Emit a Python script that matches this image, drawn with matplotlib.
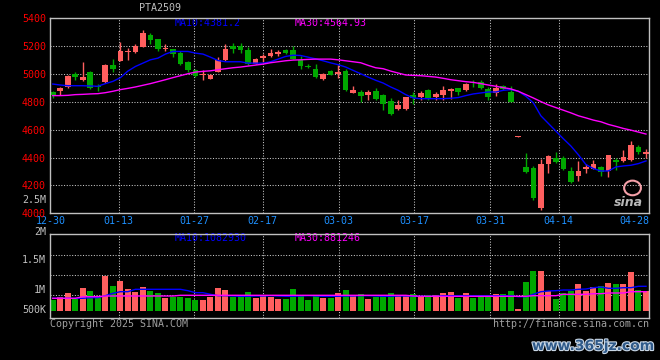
import numpy as np
import matplotlib
matplotlib.use("Agg")
import matplotlib.pyplot as plt
import matplotlib.patheffects as pe
from matplotlib.patches import Ellipse
from matplotlib.transforms import blended_transform_factory

# --- data ---
title = "PTA2509"
tick_labels = ["12-30", "01-13", "01-27", "02-17", "03-03", "03-17", "03-31", "04-14", "04-28"]
tick_days = [0, 9, 19, 28, 38, 48, 58, 67, 77]

opens = [4869, 4878, 4907, 5002, 4959, 5011, 4917, 4940, 5064, 5095,
         5161, 5159, 5197, 5278, 5252, 5178, 5178, 5150, 5088, 5031,
         4993, 4962, 5016, 5100, 5204, 5202, 5169, 5074, 5116, 5126,
         5145, 5171, 5174, 5102, 5061, 5038, 4966, 5019, 5002, 5019,
         4866, 4871, 4850, 4881, 4850, 4804, 4752, 4752, 4852, 4835,
         4888, 4835, 4847, 4876, 4897, 4883, 4945, 4945, 4892, 4862,
         4916, 4871, 4545, 4335, 4323, 4038, 4352, 4395, 4395, 4304,
         4269, 4316, 4321, 4335, 4304, 4381, 4374, 4381, 4474, 4428]
closes = [4847, 4897, 4988, 4978, 4981, 4900, 4907, 5064, 5035, 5166,
          5166, 5202, 5297, 5247, 5183, 5183, 5147, 5069, 5026, 4988,
          4997, 4995, 5102, 5178, 5181, 5174, 5074, 5107, 5126, 5154,
          5159, 5152, 5107, 5061, 5047, 4978, 5000, 4995, 5014, 4888,
          4885, 4840, 4871, 4823, 4788, 4716, 4776, 4835, 4828, 4864,
          4823, 4859, 4883, 4892, 4871, 4931, 4935, 4897, 4838, 4900,
          4892, 4802, 4552, 4297, 4109, 4352, 4411, 4369, 4316, 4226,
          4304, 4335, 4352, 4300, 4416, 4369, 4402, 4488, 4440, 4440]
highs = [4881, 4907, 4990, 5016, 5083, 5021, 4931, 5073, 5107, 5231,
         5190, 5219, 5316, 5295, 5252, 5214, 5183, 5162, 5095, 5035,
         5028, 5000, 5121, 5214, 5221, 5221, 5197, 5112, 5147, 5183,
         5173, 5183, 5200, 5126, 5073, 5069, 5004, 5030, 5062, 5038,
         4912, 4885, 4885, 4900, 4857, 4828, 4816, 4835, 4873, 4881,
         4893, 4871, 4916, 4897, 4902, 4935, 4955, 4955, 4907, 4931,
         4921, 4916, 4552, 4431, 4340, 4388, 4416, 4442, 4411, 4333,
         4374, 4352, 4381, 4340, 4416, 4400, 4454, 4519, 4490, 4464]
lows = [4828, 4847, 4897, 4959, 4950, 4893, 4876, 4935, 5014, 5090,
        5102, 5154, 5195, 5216, 5162, 5162, 5121, 5062, 5016, 4978,
        4954, 4962, 5012, 5095, 5150, 5154, 5066, 5069, 5088, 5121,
        5131, 5145, 5107, 5038, 5040, 4971, 4959, 4990, 4971, 4876,
        4861, 4800, 4816, 4816, 4745, 4709, 4745, 4745, 4788, 4816,
        4816, 4816, 4816, 4823, 4852, 4880, 4907, 4892, 4816, 4840,
        4888, 4802, 4545, 4288, 4097, 4024, 4288, 4364, 4312, 4221,
        4233, 4288, 4316, 4269, 4262, 4312, 4369, 4376, 4423, 4400]

ma10 = [4928, 4921, 4916, 4916, 4916, 4914, 4912, 4931, 4947, 4974,
        5021, 5054, 5078, 5102, 5114, 5143, 5162, 5162, 5162, 5150,
        5143, 5121, 5097, 5088, 5088, 5088, 5078, 5078, 5078, 5088,
        5107, 5126, 5135, 5133, 5121, 5109, 5095, 5080, 5067, 5050,
        5026, 5002, 4978, 4955, 4935, 4907, 4883, 4852, 4828, 4823,
        4823, 4823, 4823, 4826, 4831, 4845, 4857, 4864, 4871, 4871,
        4883, 4888, 4876, 4840, 4793, 4700, 4645, 4590, 4535, 4483,
        4420, 4350, 4321, 4304, 4304, 4333, 4340, 4345, 4357, 4376]
ma30 = [4845, 4845, 4847, 4852, 4854, 4857, 4859, 4866, 4876, 4888,
        4897, 4907, 4919, 4931, 4945, 4959, 4974, 4988, 5002, 5014,
        5019, 5023, 5031, 5038, 5045, 5050, 5057, 5064, 5071, 5081,
        5088, 5095, 5100, 5102, 5105, 5107, 5107, 5107, 5102, 5095,
        5088, 5081, 5062, 5045, 5038, 5021, 5007, 4993, 4990, 4988,
        4983, 4978, 4969, 4959, 4952, 4945, 4940, 4931, 4921, 4912,
        4902, 4893, 4876, 4852, 4828, 4802, 4778, 4759, 4740, 4721,
        4700, 4685, 4669, 4657, 4638, 4624, 4609, 4597, 4583, 4569]

volume = [473000, 602000, 774000, 559000, 989000, 860000, 602000, 1505000, 1075000, 1290000,
          946000, 817000, 1032000, 860000, 774000, 559000, 602000, 602000, 559000, 473000,
          473000, 602000, 989000, 903000, 602000, 645000, 817000, 559000, 688000, 602000,
          516000, 516000, 946000, 645000, 473000, 688000, 559000, 559000, 774000, 903000,
          645000, 731000, 516000, 602000, 645000, 774000, 688000, 688000, 731000, 645000,
          688000, 688000, 774000, 817000, 559000, 774000, 559000, 688000, 602000, 731000,
          731000, 860000, 86000, 1247000, 1720000, 1720000, 860000, 516000, 774000, 860000,
          1161000, 860000, 1032000, 1075000, 1204000, 1161000, 1161000, 1677000, 903000, 860000]
vol_ma10 = [546000, 546000, 546000, 546000, 546000, 572000, 572000, 658000, 761000, 830000,
            830000, 933000, 933000, 933000, 933000, 933000, 933000, 933000, 873000, 787000,
            787000, 718000, 658000, 658000, 645000, 632000, 632000, 645000, 645000, 658000,
            645000, 632000, 632000, 645000, 658000, 645000, 632000, 632000, 632000, 645000,
            645000, 658000, 658000, 645000, 632000, 632000, 645000, 645000, 632000, 632000,
            632000, 632000, 658000, 658000, 658000, 658000, 658000, 658000, 658000, 658000,
            658000, 658000, 615000, 615000, 718000, 830000, 860000, 873000, 903000, 903000,
            933000, 946000, 1002000, 1032000, 976000, 976000, 1002000, 1002000, 1062000, 1062000]
vol_ma30 = [546000, 546000, 546000, 546000, 615000, 615000, 615000, 645000, 645000, 645000,
            645000, 645000, 645000, 645000, 645000, 645000, 645000, 675000, 675000, 675000,
            675000, 675000, 675000, 675000, 675000, 675000, 675000, 675000, 675000, 675000,
            675000, 675000, 675000, 675000, 675000, 675000, 675000, 675000, 675000, 675000,
            675000, 675000, 675000, 675000, 675000, 675000, 675000, 675000, 645000, 632000,
            632000, 632000, 632000, 632000, 632000, 632000, 632000, 632000, 632000, 632000,
            632000, 632000, 632000, 632000, 658000, 658000, 658000, 658000, 718000, 718000,
            718000, 718000, 744000, 744000, 774000, 774000, 774000, 830000, 830000, 830000]

ma10_label, ma30_label = "MA10:4381.2", "MA30:4564.93"
vma10_label, vma30_label = "MA10:1082930", "MA30:881246"
vol_tick_text = ["2.5M", "2M", "1.5M", "1M", "500K"]

# --- style ---
RED = "#ff5f5f"
GREEN = "#00a800"
GRID = "#c8c8c8"
BORDER = "#c0c0c0"
MONO = "DejaVu Sans Mono"
FS = 7.2
plt.rcParams["font.family"] = MONO

W, H = 660, 360
def box(l, t, r, b):
    return [l / W, 1 - b / H, (r - l) / W, (b - t) / H]

fig = plt.figure(figsize=(6.6, 3.6), dpi=100, facecolor="black")
ax = fig.add_axes(box(50, 18.3, 649.3, 213.3))
axv = fig.add_axes(box(50, 234.3, 649.3, 318.3))

x = np.arange(len(closes))
o, c = np.array(opens), np.array(closes)
colors = np.where(c >= o, RED, GREEN)
xlim = (-0.37, len(closes) - 0.56)
# labels sit on a calendar grid that is a little wider than the candle spacing
tick_pos = np.array(tick_days) * 1.0101 - 0.32

for a in (ax, axv):
    a.set_facecolor("black")
    a.set_xlim(*xlim)
    for s in a.spines.values():
        s.set_color(BORDER)
        s.set_linewidth(1.0)
        s.set_zorder(10)
    for v in tick_pos[1:-1]:
        a.axvline(v, color=GRID, lw=0.75, ls=(0, (1, 1.6)), zorder=1)

# --- price panel ---
ax.set_ylim(4000, 5400)
for yv in range(4200, 5400, 200):
    ax.axhline(yv, color=GRID, lw=0.75, ls=(0, (1, 1.6)), zorder=1)
ax.vlines(x, lows, highs, colors=colors, lw=1.0, zorder=3)
body_lo = np.minimum(o, c)
body_h = np.maximum(np.abs(c - o), 6)
ax.bar(x, body_h, bottom=body_lo, width=0.76, color=colors, linewidth=0, zorder=4)
ax.plot(x, ma10, color="#0000ff", lw=1.0, zorder=5)
ax.plot(x, ma30, color="#ff00ff", lw=1.0, zorder=5)

ax.set_yticks(range(4000, 5401, 200))
ax.tick_params(axis="y", length=0, pad=3, labelsize=FS, labelcolor="#ff0000")
ax.set_xticks(tick_pos, tick_labels)
ax.tick_params(axis="x", length=0, pad=2, labelsize=FS, labelcolor="#1e90ff")

ax.text(0.2086, 0.975, ma10_label, transform=ax.transAxes, color="#0000ff",
        fontsize=FS, va="center", ha="left")
ax.text(0.4088, 0.975, ma30_label, transform=ax.transAxes, color="#ff00ff",
        fontsize=FS, va="center", ha="left")

# sina logo in the corner
ax.add_patch(Ellipse((0.972, 0.13), 0.028, 0.075, transform=ax.transAxes,
                     fill=False, ec="#f4a0a8", lw=1.5, zorder=6))
ax.text(0.99, 0.055, "sina", transform=ax.transAxes, color="#b8b8b8", fontsize=9,
        fontweight="bold", style="italic", ha="right", va="center",
        family="DejaVu Sans", zorder=6)

# --- volume panel ---
vol_scale = 43000  # volume per pixel
axv.set_ylim(-7.3 * vol_scale, 76.7 * vol_scale)
for py in (56, 36, 16):
    axv.axhline(py * vol_scale, color=GRID, lw=0.75, ls=(0, (1, 1.6)), zorder=1)
axv.bar(x, volume, width=0.8, color=colors, linewidth=0, zorder=3)
axv.plot(x, vol_ma10, color="#0000ff", lw=1.0, zorder=5)
axv.plot(x, vol_ma30, color="#ff00ff", lw=1.0, zorder=5)
axv.set_xticks([])
axv.set_yticks([])

trans = blended_transform_factory(axv.transAxes, axv.transData)
for txt, py in zip(vol_tick_text, [111, 79, 51, 21, 1]):
    axv.text(-0.0067, py * vol_scale, txt, transform=trans, color=BORDER,
             fontsize=FS, ha="right", va="center", clip_on=False)

axv.text(0.2086, 0.955, vma10_label, transform=axv.transAxes, color="#0000ff",
         fontsize=FS, va="center", ha="left")
axv.text(0.4088, 0.955, vma30_label, transform=axv.transAxes, color="#ff00ff",
         fontsize=FS, va="center", ha="left")

# --- figure texts ---
fig.text(160 / W, 1 - 8 / H, title, color="#c0c0c0", fontsize=FS, ha="center", va="center")
fig.text(50 / W, 1 - 324 / H, "Copyright 2025 SINA.COM", color="#a0a0a0",
         fontsize=FS, ha="left", va="center")
fig.text(649 / W, 1 - 324 / H, "http://finance.sina.com.cn", color="#a0a0a0",
         fontsize=FS, ha="right", va="center")
fig.text(593 / W, 1 - 346 / H, "www.365jz.com", color="#2f5a8a", fontsize=10,
         fontweight="bold", family="DejaVu Sans", ha="center", va="center",
         path_effects=[pe.withStroke(linewidth=1.6, foreground="#c9d7e6")])

fig.savefig("out.png", dpi=100, facecolor="black")
